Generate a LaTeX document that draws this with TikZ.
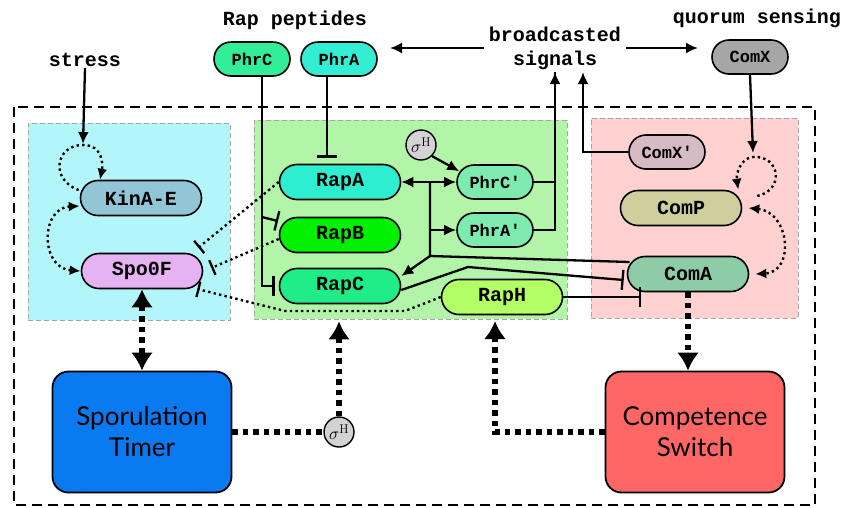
\documentclass[tikz,border=0pt]{standalone}
\usepackage{fontspec}
\setmonofont{Liberation Mono}
\newfontfamily\gillfont{Lato}
\usetikzlibrary{arrows.meta,calc}
\definecolor{cyanpanel}{HTML}{B3F6FA}
\definecolor{greenpanel}{HTML}{B2F5A8}
\definecolor{pinkpanel}{HTML}{FFD1D1}
\definecolor{kinc}{HTML}{92C6D6}
\definecolor{spoc}{HTML}{E6B3F2}
\definecolor{phrcc}{HTML}{33EE99}
\definecolor{phrac}{HTML}{33EED4}
\definecolor{rapac}{HTML}{2EEED2}
\definecolor{rapbc}{HTML}{00F000}
\definecolor{rapcc}{HTML}{1FEE88}
\definecolor{raphc}{HTML}{B2FF66}
\definecolor{phrpc}{HTML}{7DEBB0}
\definecolor{comxc}{HTML}{A6A6A6}
\definecolor{comxpc}{HTML}{D6BAC4}
\definecolor{compc}{HTML}{CFCF9D}
\definecolor{comac}{HTML}{8ECCA8}
\definecolor{timerc}{HTML}{0A7AF0}
\definecolor{compsc}{HTML}{FF6666}
\definecolor{sigc}{HTML}{D3D3D3}
\begin{document}
\begin{tikzpicture}[x=1pt,y=-1pt,
  pill/.style={draw=black, line width=1.6pt, rounded corners=17.5pt, minimum height=35pt,
    minimum width=121pt, inner sep=0pt, font=\ttfamily\bfseries\fontsize{20}{22}\selectfont},
  spill/.style={pill, minimum width=76pt, minimum height=34pt, rounded corners=17pt,
    font=\ttfamily\bfseries\fontsize{17}{19}\selectfont},
  lab/.style={inner sep=1pt, font=\ttfamily\bfseries\fontsize{20}{24}\selectfont, align=center},
  panel/.style={draw=black!35, line width=0.8pt, dash pattern=on 5pt off 3pt, inner sep=0pt},
  bigbox/.style={draw=black, line width=1.8pt, rounded corners=16pt, minimum width=179pt,
    minimum height=121pt, align=center, font=\gillfont\fontsize{26}{31}\selectfont},
  sig/.style={circle, draw=black, line width=1.4pt, fill=sigc, minimum size=30pt, inner sep=0pt,
    font=\fontsize{18}{18}\selectfont},
  conn/.style={line width=2.3pt, draw=black},
  tip/.style={-{Latex[length=12pt,width=11pt]}},
  inh/.style={-{Bar[width=20pt,line width=2.3pt]}},
  dotthin/.style={line width=2.4pt, dash pattern=on 2.4pt off 3.2pt},
  dtip/.style={-{Latex[length=11pt,width=10pt]}},
  dinh/.style={-{Bar[width=16pt,line width=2.3pt]}},
  thickdot/.style={line width=5.5pt, dash pattern=on 5.5pt off 5pt},
  ttip/.style={-{Latex[length=18pt,width=22pt]}}
]
\useasboundingbox (0,0) rectangle (842,507);
\fill[white] (0,0) rectangle (842,507);

% outer dashed frame
\draw[line width=2.5pt, dash pattern=on 10pt off 6pt] (14,107) rectangle (815,505);

% panels
\node[panel, fill=cyanpanel, minimum width=202pt, minimum height=197pt] (cyanp) at (129,221.5) {};
\node[panel, fill=greenpanel, minimum width=313pt, minimum height=199pt] (green) at (410.5,219.5) {};
\node[panel, fill=pinkpanel, minimum width=207pt, minimum height=200pt] (pinkp) at (694.5,218) {};

% text labels
\node[lab] (stress) at (85,60) {stress};
\node[lab] (rappep) at (295,20) {Rap peptides};
\node[lab] (bc) at (555,48) {broadcasted\\signals};
\node[lab] (quorum) at (757,18) {quorum sensing};

% nodes
\node[pill, fill=kinc] (kin) at (141,198) {KinA-E};
\node[pill, fill=spoc] (spo) at (142,271) {Spo0F};
\node[spill, fill=phrcc] (phrc) at (252,59) {PhrC};
\node[spill, fill=phrac] (phra) at (339,59) {PhrA};
\node[pill, fill=rapac] (rapa) at (340,182) {RapA};
\node[pill, fill=rapbc] (rapb) at (340,235) {RapB};
\node[pill, fill=rapcc] (rapc) at (340,286) {RapC};
\node[pill, fill=raphc] (raph) at (502,297) {RapH};
\node[sig] (sig1) at (421,145) {$\sigma^{\mathrm{H}}$};
\node[spill, fill=phrpc] (phrcp) at (495,182) {PhrC'};
\node[spill, fill=phrpc] (phrap) at (495,230) {PhrA'};
\node[spill, fill=comxc] (comx) at (750,57) {ComX};
\node[spill, fill=comxpc] (comxp) at (667,152) {ComX'};
\node[pill, fill=compc] (comp) at (681,208) {ComP};
\node[pill, fill=comac] (coma) at (688,274) {ComA};
\node[bigbox, fill=timerc] (timer) at (142,432) {Sporulation\\Timer};
\node[bigbox, fill=compsc] (cs) at (695,432) {Competence\\Switch};
\node[sig] (sig2) at (339,432) {$\sigma^{\mathrm{H}}$};

% coordinates
\coordinate (kloop) at (83,144);
\coordinate (lt) at (390,48);
\coordinate (rt) at (698,48);
\coordinate (bcA) at (555,72);
\coordinate (bcB) at (583,72);
\coordinate (cxl) at (753,153);
\coordinate (jt) at (430,182);
\coordinate (jb) at (430,256);
\coordinate (jc) at (262,217);
\coordinate (rhtip) at (495,321);

% top signals
\draw[conn,tip] (stress.south) -- (kloop);
\draw[conn,tip] ([xshift=-4pt]bc.west) -- (lt);
\draw[conn,tip] ([xshift=4pt]bc.east) -- (rt);
\draw[conn,tip] (phrcp.east) -| (bcA);
\draw[conn] (phrap.east) -| (bcA);
\draw[conn,tip] (comxp.west) -| (bcB);
\draw[conn,tip] (comx.south) -- (cxl);

% Phr peptides inhibition of Raps
\draw[conn,inh] ([xshift=10pt]phrc.south) |- ([xshift=-4pt]rapc.west);
\draw[conn,inh] (jc) -- (278,221);
\draw[conn,inh] ([xshift=-12pt]phra.south) -- ([xshift=-13pt,yshift=6pt]rapa.north);

% sigma -> PhrC'
\draw[conn,tip] (sig1.south east) -- ([xshift=3pt,yshift=-7pt]phrcp.north west);

% ComA activation network
\draw[conn,{Latex[length=12pt,width=11pt]}-{Latex[length=12pt,width=11pt]}] (rapa.east) -- (phrcp.west);
\draw[conn] ([xshift=3pt,yshift=12pt]coma.west) -- (jb) -- (jt);
\draw[conn,tip] (jt |- phrap) -- (phrap.west);
\draw[conn,tip] (jb) -- ([yshift=10pt]rapc.east);
\draw[conn,inh] ([yshift=-4pt]rapc.east) -- (468,267) -- ([xshift=-3pt,yshift=-6pt]coma.west);
\draw[conn,inh] (raph.east) -- (641,297);

% dotted inhibition of Spo0F
\draw[dotthin,dinh] (rapa.west) -- ([xshift=-5pt,yshift=5pt]spo.north east);
\draw[dotthin,dinh] ([yshift=-4pt]rapb.west) -- ([xshift=8pt,yshift=3pt]spo.east);
\draw[dotthin,dinh] (raph.west) -- (405,311) -- (285,311) -- ([xshift=-6pt,yshift=-18pt]spo.east);

% dotted loops
\draw[dotthin,dtip] ([xshift=-1pt,yshift=8pt]kin.west) .. controls (50,180) and (55,145) .. (83,145)
  .. controls (103,145) and (103,165) .. ([xshift=-41pt]kin.north);
\draw[dotthin,{Latex[length=11pt,width=10pt]}-{Latex[length=11pt,width=10pt]}]
  ([yshift=-8pt]kin.west) .. controls (40,208) and (40,268) .. (spo.west);
\draw[dotthin,dtip] ([xshift=15pt,yshift=12pt]comp.east) .. controls (785,190) and (780,155) .. (753,157)
  .. controls (740,158) and (736,175) .. ([xshift=-4pt]comp.north east);
\draw[dotthin,{Latex[length=11pt,width=10pt]}-{Latex[length=11pt,width=10pt]}]
  ([xshift=6pt]comp.east) .. controls (790,212) and (795,272) .. ([xshift=6pt]coma.east);

% thick dotted
\draw[thickdot,{Latex[length=18pt,width=22pt]}-{Latex[length=18pt,width=22pt]}] (spo.south) -- (timer.north);
\draw[thickdot] (timer.east) -- (sig2.west);
\draw[thickdot,ttip] (sig2.north) -- ([yshift=-2pt]sig2.north |- green.south);
\draw[thickdot,ttip] (coma.south) -- (coma.south |- cs.north);
\draw[thickdot,ttip] (cs.west) -| (rhtip);
\end{tikzpicture}
\end{document}
